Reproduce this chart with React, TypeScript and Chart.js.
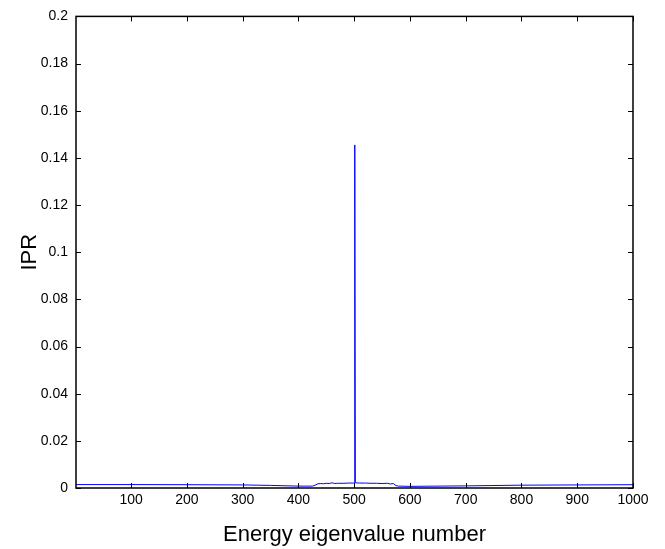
import React, { useEffect, useRef } from "react";
import { Chart, registerables } from "chart.js";

Chart.register(...registerables);

const xValues = [1, 100, 200, 300, 350, 400, 425, 430, 435, 440, 445, 450, 455, 460, 465, 470, 480, 490, 499, 500, 501, 502, 510, 520, 530, 540, 550, 560, 565, 570, 575, 580, 600, 700, 800, 900, 1000];
const iprValues = [0.00145, 0.00145, 0.0014, 0.0013, 0.0011, 0.0008, 0.0008, 0.0012, 0.0018, 0.0019, 0.0018, 0.002, 0.0019, 0.0022, 0.0019, 0.002, 0.002, 0.0021, 0.0021, 0.0022, 0.1455, 0.0022, 0.0021, 0.0021, 0.002, 0.002, 0.0019, 0.002, 0.0017, 0.0019, 0.001, 0.0008, 0.0007, 0.0009, 0.0012, 0.0013, 0.0014];
const xTicks = [100, 200, 300, 400, 500, 600, 700, 800, 900, 1000];
const yTicks = [0, 0.02, 0.04, 0.06, 0.08, 0.1, 0.12, 0.14, 0.16, 0.18, 0.2];
const xTitle = "Energy eigenvalue number";
const yTitle = "IPR";

const FONT = "'Liberation Sans', Arial, Helvetica, sans-serif";

const boxPlugin = {
  id: "matlabBox",
  afterDatasetsDraw(chart: any) {
    const { ctx, chartArea } = chart;
    const { left, right, top, bottom } = chartArea;
    const xs = chart.scales.x;
    const ys = chart.scales.y;
    const tl = 5;
    ctx.save();
    ctx.strokeStyle = "#000";
    ctx.lineWidth = 1;
    ctx.beginPath();
    for (const v of xTicks) {
      const px = Math.round(xs.getPixelForValue(v)) + 0.5;
      ctx.moveTo(px, bottom);
      ctx.lineTo(px, bottom - tl);
      ctx.moveTo(px, top);
      ctx.lineTo(px, top + tl);
    }
    for (const v of yTicks) {
      const py = Math.round(ys.getPixelForValue(v)) + 0.5;
      ctx.moveTo(left, py);
      ctx.lineTo(left + tl, py);
      ctx.moveTo(right, py);
      ctx.lineTo(right - tl, py);
    }
    ctx.stroke();
    ctx.lineWidth = 1.5;
    ctx.strokeRect(left, top, right - left, bottom - top);
    ctx.restore();
  },
};

export default function App() {
  const ref = useRef<HTMLCanvasElement>(null);
  useEffect(() => {
    document.body.style.margin = "0";
    const canvas = ref.current!;
    const data = xValues.map((x, i) => ({ x, y: iprValues[i] }));
    const chart = new Chart(canvas, {
      type: "line",
      data: {
        datasets: [
          {
            data,
            borderColor: "#0000ff",
            borderWidth: 1,
            pointRadius: 0,
            tension: 0,
            fill: false,
          },
        ],
      },
      options: {
        responsive: false,
        animation: false,
        maintainAspectRatio: false,
        layout: { padding: { left: 0, right: 32, top: 12, bottom: 0 } },
        plugins: { legend: { display: false }, tooltip: { enabled: false } },
        scales: {
          x: {
            type: "linear",
            min: 1,
            max: 1000,
            afterFit: (s: any) => {
              s.height = 61;
            },
            afterBuildTicks: (s: any) => {
              s.ticks = xTicks.map((v) => ({ value: v }));
            },
            grid: { display: false, drawTicks: false },
            border: { display: false },
            ticks: {
              color: "#000",
              font: { family: FONT, size: 14 },
              padding: 4,
              maxRotation: 0,
              autoSkip: false,
              callback: (v: any) => String(v),
            },
            title: {
              display: true,
              text: xTitle,
              color: "#000",
              font: { family: FONT, size: 22 },
              padding: { top: 0, bottom: 1 },
            },
          },
          y: {
            type: "linear",
            min: 0,
            max: 0.2,
            afterFit: (s: any) => {
              s.width = 76;
            },
            afterBuildTicks: (s: any) => {
              s.ticks = yTicks.map((v) => ({ value: v }));
            },
            grid: { display: false, drawTicks: false },
            border: { display: false },
            ticks: {
              color: "#000",
              font: { family: FONT, size: 14 },
              padding: 8,
              autoSkip: false,
              callback: (v: any) => String(Math.round(v * 100) / 100),
            },
            title: {
              display: true,
              text: yTitle,
              color: "#000",
              font: { family: FONT, size: 22 },
              padding: { top: 17, bottom: 0 },
            },
          },
        },
      },
      plugins: [boxPlugin],
    });
    return () => chart.destroy();
  }, []);
  return <canvas ref={ref} width={665} height={549} style={{ display: "block" }} />;
}
